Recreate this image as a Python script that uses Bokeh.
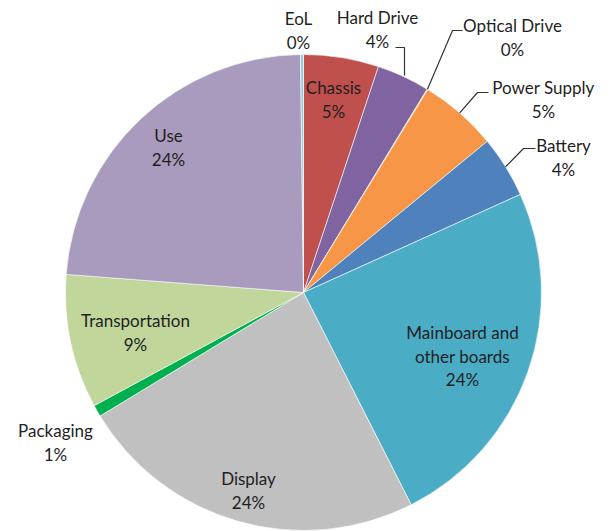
import math
from bokeh.plotting import figure
from bokeh.models import Range1d, ColumnDataSource
from bokeh.core.properties import value
from bokeh.embed import file_html
from bokeh.resources import INLINE

# ---- data (clockwise from 12 o'clock) ----
categories = ["Chassis", "Hard Drive", "Optical Drive", "Power Supply", "Battery",
              "Mainboard and\nother boards", "Display", "Packaging", "Transportation",
              "Use", "EoL"]
shares = [5.1, 3.6, 0.05, 5.3, 4.2, 24.3, 23.8, 0.8, 9.1, 23.6, 0.2]
colors = ["#C0504D", "#8064A2", "#9BBB59", "#F79646", "#4F81BD", "#4BACC6",
          "#C0C0C0", "#00B050", "#C0D69B", "#A99BBD", "#92CDDC"]

# ---- layout (page pixel coordinates) ----
W, H = 600, 531
CX, CY, R = 303, 292, 238
label_pos = {
    "Chassis": (333, 87),
    "Hard Drive": (377, 17),
    "Optical Drive": (512, 25),
    "Power Supply": (543, 87),
    "Battery": (563, 145),
    "Mainboard and\nother boards": (462, 332),
    "Display": (248, 478),
    "Packaging": (55, 430),
    "Transportation": (135, 320),
    "Use": (168, 135),
    "EoL": (298, 18),
}
leaders = {
    "Hard Drive": ("down", 395, 404, 47),
    "Optical Drive": ("diag", 462, 452, 30),
    "Power Supply": ("diag", 488, 477, 92),
    "Battery": ("diag", 535, 523, 148),
}
LINE_H = 23.5
FONT = "Lato"
FS = "17px"
TXT = "#1f1f1f"


def fy(page_y):
    return H - page_y


p = figure(width=W, height=H, output_backend="svg", toolbar_location=None,
           x_range=Range1d(0, W), y_range=Range1d(0, H), min_border=0)
p.axis.visible = False
p.grid.visible = False
p.outline_line_color = None
p.background_fill_color = "white"

total = sum(shares)
cum = 0.0
starts, ends, mids = [], [], []
for s in shares:
    a0 = cum / total
    cum += s
    a1 = cum / total
    starts.append(math.pi / 2 - 2 * math.pi * a0)
    ends.append(math.pi / 2 - 2 * math.pi * a1)
    mids.append(math.pi / 2 - 2 * math.pi * (a0 + a1) / 2)

src = ColumnDataSource(dict(start=starts, end=ends, color=colors, cat=categories))
p.wedge(x=CX, y=fy(CY), radius=R, start_angle="start", end_angle="end",
        direction="clock", fill_color="color", line_color="white",
        line_width=0.6, source=src)

tx, ty, tt = [], [], []
for cat, s in zip(categories, shares):
    lx, ly = label_pos[cat]
    lines = cat.split("\n") + [f"{round(s / total * 100)}%"]
    for i, ln in enumerate(lines):
        tx.append(lx)
        ty.append(fy(ly + i * LINE_H))
        tt.append(ln)
p.text(x=tx, y=ty, text=tt, text_align="center", text_baseline="middle",
       text_font=value(FONT), text_font_size=FS, text_color=TXT)

for cat, (kind, x0, xe, yl) in leaders.items():
    i = categories.index(cat)
    ax = CX + R * math.cos(mids[i])
    ay = CY - R * math.sin(mids[i])
    if kind == "down":
        xs = [x0, xe, xe]
        ys = [yl, yl, ay - 1]
    else:
        xs = [x0, xe, ax]
        ys = [yl, yl, ay]
    p.line(x=xs, y=[fy(v) for v in ys], line_color="#333333", line_width=1.2)

open("out.html", "w").write(file_html(p, INLINE))
